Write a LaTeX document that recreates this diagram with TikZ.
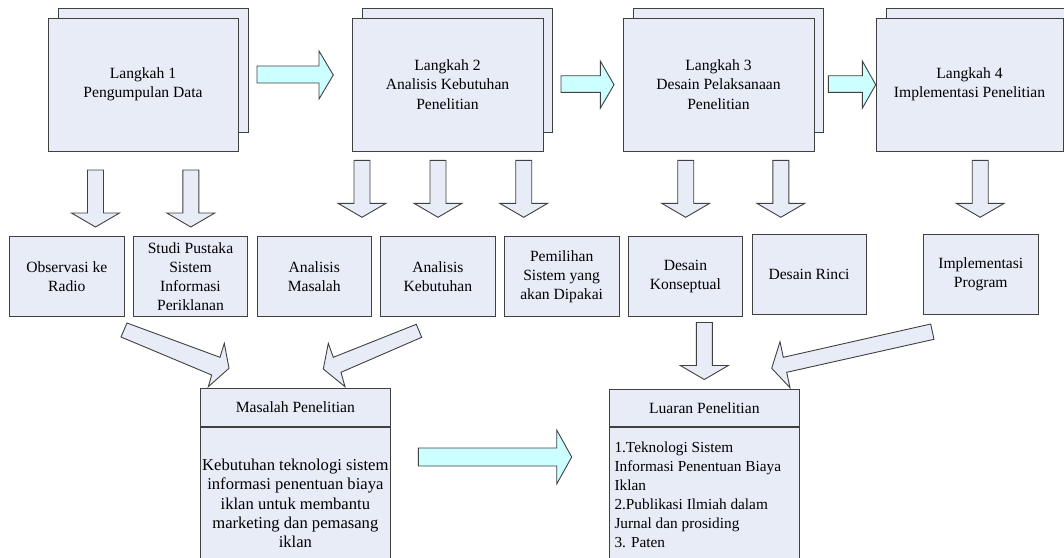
\documentclass[tikz,border=0pt]{standalone}
\usepackage{fontspec}
\setmainfont{Liberation Serif}
\definecolor{boxfill}{HTML}{E7ECF7}
\definecolor{flowfill}{HTML}{CCFFFF}
\definecolor{edge}{HTML}{404040}
\tikzset{
  panel/.style={draw=edge, fill=boxfill, line width=0.9pt},
  flow/.style={draw=edge, fill=flowfill, line width=0.9pt},
  card/.style={panel, inner sep=0pt, align=center, font=\fontsize{15.6}{19.3}\selectfont},
  txt/.style={inner sep=0pt},
  downblock/.pic={\draw[panel] (-8,0) -- (8,0) -- (8,43) -- (24,43) -- (0,57) -- (-24,43) -- (-8,43) -- cycle;}
}
\begin{document}
\begin{tikzpicture}[x=1pt,y=-1pt]
\useasboundingbox (0,0) rectangle (1064,557);
\clip (0,0) rectangle (1064,557);

% --- the four research steps (stacked pages) ---
\node[card, minimum width=190pt, minimum height=124pt] (s1b) at (153,70) {};
\node[card, minimum width=190pt, minimum height=133pt] (s1) at (143,84.5) {Langkah 1\\Pengumpulan Data};
\node[card, minimum width=190pt, minimum height=124pt] (s2b) at (457,70) {};
\node[card, minimum width=191pt, minimum height=133pt] (s2) at (447.5,84.5) {Langkah 2\\Analisis Kebutuhan\\Penelitian};
\node[card, minimum width=190pt, minimum height=124pt] (s3b) at (728,70) {};
\node[card, minimum width=191pt, minimum height=133pt] (s3) at (718.5,84.5) {Langkah 3\\Desain Pelaksanaan\\Penelitian};
\node[card, minimum width=190pt, minimum height=124pt] (s4b) at (981,70) {};
\node[card, minimum width=187pt, minimum height=133pt] (s4) at (969.5,84.5) {Langkah 4\\Implementasi Penelitian};

% --- arrows between the steps ---
\draw[flow] (257,66) -- (319,66) -- (319,51) -- (333.3,75) -- (319,99) -- (319,83) -- (257,83) -- cycle;
\draw[flow] (561,75.7) -- (600.3,75.7) -- (600.3,61) -- (614,84.7) -- (600.3,108.3) -- (600.3,92.3) -- (561,92.3) -- cycle;
\draw[flow] (828.3,75.7) -- (862.3,75.7) -- (862.3,61) -- (875.7,84.7) -- (862.3,108.3) -- (862.3,92.3) -- (828.3,92.3) -- cycle;

% --- arrows down to the activities ---
\pic at (95.5,170) {downblock};
\pic at (190.8,170) {downblock};
\pic at (362,160.3) {downblock};
\pic at (438,160.3) {downblock};
\pic at (523.7,160.3) {downblock};
\pic at (685.7,160.3) {downblock};
\pic at (780.8,160.3) {downblock};
\pic at (980.2,160.3) {downblock};

% --- activities ---
\node[card, minimum width=115pt, minimum height=80pt] (a1) at (66.8,276.7) {Observasi ke\\Radio};
\node[card, minimum width=114.4pt, minimum height=80pt] (a2) at (190.5,276.7) {Studi Pustaka\\Sistem\\Informasi\\Periklanan};
\node[card, minimum width=114.5pt, minimum height=80pt] (a3) at (314.25,276.7) {Analisis\\Masalah};
\node[card, minimum width=114.8pt, minimum height=80pt] (a4) at (437.9,276.7) {Analisis\\Kebutuhan};
\node[card, minimum width=114.7pt, minimum height=80pt] (a5) at (561.65,276.7) {Pemilihan\\Sistem yang\\akan Dipakai};
\node[card, minimum width=114.2pt, minimum height=80pt] (a6) at (685.4,276.7) {Desain\\Konseptual};
\node[card, minimum width=114pt, minimum height=80pt] (a7) at (809,274.3) {Desain Rinci};
\node[card, minimum width=115.5pt, minimum height=80pt] (a8) at (980.75,274.3) {Implementasi\\Program};

% --- slanted arrows into the lower boxes ---
\draw[panel] (127,323) -- (220,357.3) -- (224.3,343.3) -- (229,368.3) -- (208.3,386.7) -- (211.7,375) -- (121,337) -- cycle;
\draw[panel] (416.3,324.3) -- (333.3,357.3) -- (328.3,343.3) -- (323.3,369) -- (345,386.7) -- (341,372.3) -- (421.7,337.3) -- cycle;
\draw[panel] (930.7,324) -- (783.3,357.3) -- (780,341.7) -- (771.7,368.3) -- (790,387.7) -- (786.7,372.3) -- (934,339.3) -- cycle;
\pic at (704.3,322.5) {downblock};

% --- research problem ---
\node[card, minimum width=189.3pt, minimum height=38.4pt] (mhead) at (295.35,407.5) {Masalah Penelitian};
\node[card, minimum width=189.3pt, minimum height=143.3pt, anchor=north] (mbody) at (mhead.south) {};
\node[txt, align=center, anchor=north, font=\fontsize{16.6}{19.2}\selectfont] (mtext) at (295.35,459) {Kebutuhan teknologi sistem\\informasi penentuan biaya\\iklan untuk membantu\\marketing dan pemasang\\iklan};

% --- arrow from problem to outputs ---
\draw[flow] (418.3,448) -- (556.7,448) -- (556.7,430) -- (571.7,457) -- (556.7,484) -- (556.7,466) -- (418.3,466) -- cycle;

% --- research outputs ---
\node[card, minimum width=190pt, minimum height=37.7pt] (lhead) at (704.3,407.85) {Luaran Penelitian};
\node[card, minimum width=190pt, minimum height=143.3pt, anchor=north] (lbody) at (lhead.south) {};
\node[txt, align=left, anchor=north west, font=\fontsize{15.3}{18.9}\selectfont] (ltext) at (614.3,441.8) {1.Teknologi Sistem\\Informasi Penentuan Biaya\\Iklan\\2.Publikasi Ilmiah dalam\\Jurnal dan prosiding\\3. Paten};
\end{tikzpicture}
\end{document}
